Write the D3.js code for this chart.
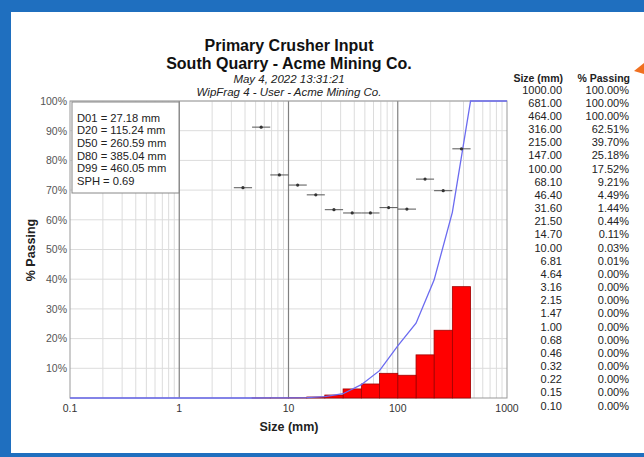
<!DOCTYPE html>
<html><head><meta charset="utf-8">
<script src="https://cdn.jsdelivr.net/npm/d3@7"></script>
<style>body{margin:0;background:#fff}svg{display:block;font-family:"Liberation Sans",Arial,sans-serif}</style>
</head><body>
<svg id="c" width="644" height="457"></svg>
<script>
// ---- data ----
const titleLines = ["Primary Crusher Input", "South Quarry - Acme Mining Co."];
const subLines = ["May 4, 2022 13:31:21", "WipFrag 4 - User - Acme Mining Co."];
const sizes = [1000, 681, 464, 316, 215, 147, 100, 68.1, 46.4, 31.6, 21.5, 14.7, 10, 6.81, 4.64, 3.16, 2.15, 1.47, 1, 0.68, 0.46, 0.32, 0.22, 0.15, 0.10];
const passing = [100, 100, 100, 62.51, 39.70, 25.18, 17.52, 9.21, 4.49, 1.44, 0.44, 0.11, 0.03, 0.01, 0, 0, 0, 0, 0, 0, 0, 0, 0, 0, 0];
const whiskerLow = [3.16, 4.64, 6.81, 10, 14.7, 21.5, 31.6, 46.4, 68.1, 100, 147, 215, 316];
const whiskerHigh = [4.64, 6.81, 10, 14.7, 21.5, 31.6, 46.4, 68.1, 100, 147, 215, 316, 464];
const whiskerValue = [70.8, 91.2, 75.1, 71.7, 68.4, 63.4, 62.3, 62.3, 64.1, 63.6, 73.7, 69.8, 83.9];
const statLines = ["D01 = 27.18 mm", "D20 = 115.24 mm", "D50 = 260.59 mm", "D80 = 385.04 mm", "D99 = 460.05 mm", "SPH = 0.69"];
const xTicks = [0.1, 1, 10, 100, 1000];
const yTicks = [10, 20, 30, 40, 50, 60, 70, 80, 90, 100];

const svg = d3.select("#c");
// frame
svg.append("rect").attr("x",0).attr("y",0).attr("width",644).attr("height",457).attr("fill","#1f6fbf");
svg.append("rect").attr("x",11).attr("y",12).attr("width",633).attr("height",441).attr("fill","#fff");
svg.append("path").attr("d","M634,71 L644,63 L644,74 Z").attr("fill","#f07020");

const L=70,R=507,T=101,B=398;
const x = d3.scaleLog().domain([0.1,1000]).range([L,R]);
const y = d3.scaleLinear().domain([0,100]).range([B,T]);

// grid
const minor=[];
for (let e=-1;e<3;e++) for (let k=2;k<=9;k++) minor.push(k*Math.pow(10,e));
const g = svg.append("g");
g.selectAll(".mn").data(minor).join("line").attr("x1",d=>x(d)).attr("x2",d=>x(d)).attr("y1",T).attr("y2",B).attr("stroke","#dcdcdc").attr("stroke-width",1);
g.selectAll(".hy").data(yTicks).join("line").attr("x1",L).attr("x2",R).attr("y1",d=>y(d)).attr("y2",d=>y(d)).attr("stroke","#dcdcdc");
g.selectAll(".mj").data([1,10,100]).join("line").attr("x1",d=>x(d)).attr("x2",d=>x(d)).attr("y1",T).attr("y2",B).attr("stroke","#808080").attr("stroke-width",1.2);
svg.append("rect").attr("x",L).attr("y",T).attr("width",R-L).attr("height",B-T).attr("fill","none").attr("stroke","#999");

// bars
const bins=[];
for (let i=0;i<sizes.length-1;i++){ const h=passing[i]-passing[i+1]; if(h>0) bins.push({lo:sizes[i+1],hi:sizes[i],h}); }
svg.append("g").selectAll("rect").data(bins).join("rect")
 .attr("x",d=>x(d.lo)).attr("width",d=>x(d.hi)-x(d.lo))
 .attr("y",d=>y(d.h)).attr("height",d=>y(0)-y(d.h))
 .attr("fill","#ff0000").attr("stroke","#a00000").attr("stroke-width",0.8);

// cumulative curve
const pts = sizes.map((s,i)=>[s,passing[i]]).reverse();
svg.append("path").attr("d",d3.line().x(d=>x(d[0])).y(d=>y(d[1]))(pts)).attr("fill","none").attr("stroke","#6b6bf0").attr("stroke-width",1.3);

// whiskers
const wg = svg.append("g");
whiskerValue.forEach((v,i)=>{
  const c=Math.sqrt(whiskerLow[i]*whiskerHigh[i]);
  wg.append("line").attr("x1",x(whiskerLow[i])).attr("x2",x(whiskerHigh[i])).attr("y1",y(v)).attr("y2",y(v)).attr("stroke","#555").attr("stroke-width",1);
  wg.append("circle").attr("cx",x(c)).attr("cy",y(v)).attr("r",1.6).attr("fill","#333");
});

// axes labels
svg.append("g").selectAll("text").data(yTicks).join("text").attr("x",67).attr("y",d=>y(d)+3.8).attr("text-anchor","end").attr("font-size",10.5).attr("fill","#555").text(d=>d+"%");
svg.append("g").selectAll("text").data(xTicks).join("text").attr("x",d=>x(d)).attr("y",412).attr("text-anchor","middle").attr("font-size",10.5).attr("fill","#333").text(d=>String(d));
svg.append("text").attr("x",289).attr("y",431).attr("text-anchor","middle").attr("font-size",12.5).attr("font-weight","bold").attr("fill","#222").text("Size (mm)");
svg.append("text").attr("transform","translate(35,250) rotate(-90)").attr("text-anchor","middle").attr("font-size",12.5).attr("font-weight","bold").attr("fill","#222").text("% Passing");

// titles
titleLines.forEach((t,i)=>svg.append("text").attr("x",289).attr("y",51+i*18).attr("text-anchor","middle").attr("font-size",16).attr("font-weight","bold").attr("fill","#111").text(t));
subLines.forEach((t,i)=>svg.append("text").attr("x",289).attr("y",83+i*13).attr("text-anchor","middle").attr("font-size",11.5).attr("font-style","italic").attr("fill","#222").text(t));

// stats box
svg.append("rect").attr("x",72).attr("y",102).attr("width",107).attr("height",91).attr("fill","#fff").attr("stroke","#888");
statLines.forEach((t,i)=>svg.append("text").attr("x",77).attr("y",121.5+i*12.7).attr("font-size",11.2).attr("fill","#222").text(t));

// table
svg.append("text").attr("x",563).attr("y",82).attr("text-anchor","end").attr("font-size",10.5).attr("font-weight","bold").attr("fill","#222").text("Size (mm)");
svg.append("text").attr("x",630).attr("y",82).attr("text-anchor","end").attr("font-size",10.5).attr("font-weight","bold").attr("fill","#222").text("% Passing");
sizes.forEach((s,i)=>{
  svg.append("text").attr("x",562).attr("y",93.5+i*13.17).attr("text-anchor","end").attr("font-size",11).attr("fill","#222").text(s.toFixed(2));
  svg.append("text").attr("x",629).attr("y",93.5+i*13.17).attr("text-anchor","end").attr("font-size",11).attr("fill","#222").text(passing[i].toFixed(2)+"%");
});
</script>
</body></html>
